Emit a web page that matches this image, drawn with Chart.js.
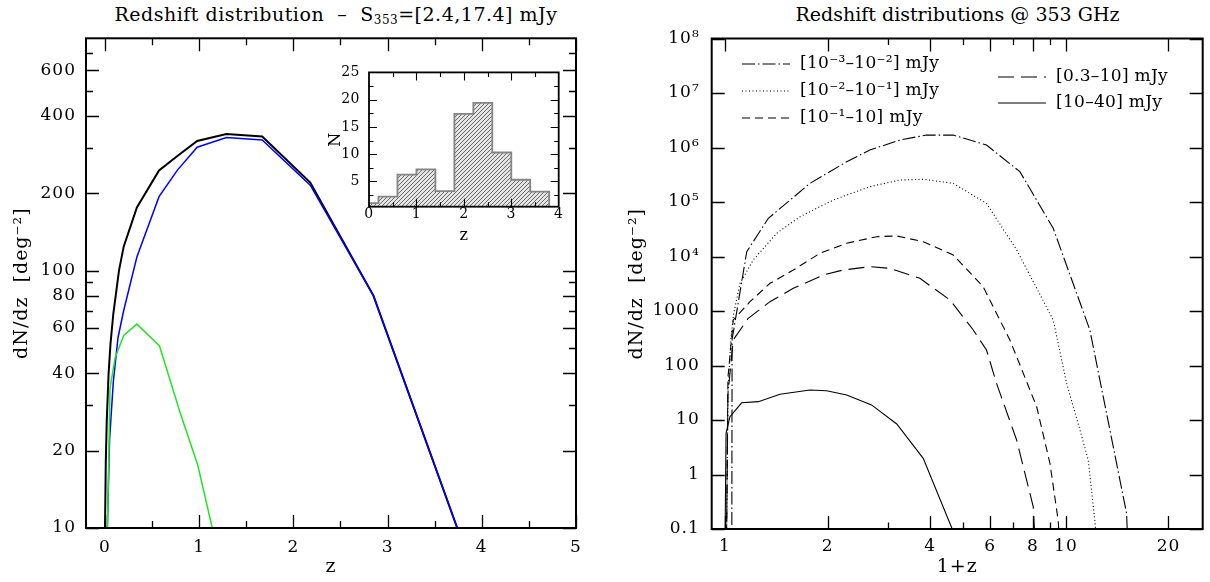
<!DOCTYPE html>
<html>
<head>
<meta charset="utf-8">
<script src="https://cdn.jsdelivr.net/npm/chart.js@4.4.0/dist/chart.umd.min.js"></script>
<style>
  body { margin: 0; background: #fff; }
  #wrap { position: relative; width: 1210px; height: 582px; font-family: 'DejaVu Serif', serif; }
  canvas { position: absolute; }
  .title { position: absolute; top: 3px; font-size: 19px; line-height: 22px; text-align: center; white-space: nowrap; color: #000; }
  .title sub { font-size: 12px; vertical-align: -3px; }
</style>
</head>
<body>
<div id="wrap">
  <div class="title" style="left:91px;width:490px;letter-spacing:0.5px">Redshift distribution &nbsp;–&nbsp; S<sub>353</sub>=[2.4,17.4] mJy</div>
  <div class="title" style="left:712px;width:491px">Redshift distributions @ 353 GHz</div>
  <canvas id="left" width="605" height="582" style="left:0;top:0"></canvas>
  <canvas id="right" width="605" height="582" style="left:605px;top:0"></canvas>
  <canvas id="inset" width="245" height="195" style="left:325px;top:55px"></canvas>
</div>
<script>
// ---- left panel: dN/dz vs z for S353 = [2.4,17.4] mJy
const zTotal = [0.0, 0.01, 0.02, 0.04, 0.06, 0.09, 0.15, 0.2, 0.34, 0.575, 0.77, 0.98, 1.29, 1.67, 2.18, 2.85, 3.74];
const nTotal = [9, 18, 26, 40, 52, 68, 100, 124, 176, 245, 279, 319, 340, 332, 220, 80, 10];
const zBlue = [0.025, 0.05, 0.09, 0.14, 0.2, 0.34, 0.575, 0.77, 0.98, 1.29, 1.67, 2.18, 2.85, 3.74];
const nBlue = [9.5, 22, 37, 55, 70, 113, 194, 246, 302, 329, 322, 215, 80, 10];
const zGreen = [0.027, 0.055, 0.11, 0.2, 0.34, 0.58, 0.8, 0.985, 1.14];
const nGreen = [9.5, 35, 46, 56, 62, 51, 28, 17.6, 10];

const leftXTicks = [0, 1, 2, 3, 4, 5];
const leftYTicks = [10, 20, 40, 60, 80, 100, 200, 400, 600];

// ---- inset histogram
const binEdges = [0, 0.2, 0.6, 1.0, 1.4, 1.8, 2.2, 2.6, 3.0, 3.4, 3.8];
const binCounts = [1, 2.2, 6.25, 7.2, 3.2, 17.4, 19.4, 10.3, 5.3, 3.1];
const insetXTicks = [0, 1, 2, 3, 4];
const insetYTicks = [5, 10, 15, 20, 25];

// ---- right panel: dN/dz vs 1+z, flux bins
const rLabels = ['[10⁻³–10⁻²] mJy', '[10⁻²–10⁻¹] mJy', '[10⁻¹–10] mJy', '[0.3–10] mJy', '[10–40] mJy'];
const xA = [1.047, 1.049, 1.158, 1.34, 1.775, 2.275, 2.66, 3.26, 3.9, 4.67, 5.85, 7.33, 9.18, 11.76, 15.07, 15.15];
const yA = [0.05, 300, 12250, 50200, 220000, 548000, 899000, 1.37e6, 1.69e6, 1.69e6, 1.11e6, 3.6e5, 3.29e4, 448, 0.194, 0.08];
const xB = [1.01, 1.02, 1.04, 1.06, 1.107, 1.21, 1.418, 1.66, 2.078, 2.66, 3.26, 3.815, 4.67, 5.85, 7.17, 8.56, 9.18, 10.05, 11.0, 11.63, 12.17, 12.25];
const yB = [0.05, 30, 300, 900, 3220, 8630, 26700, 53700, 109000, 191000, 253000, 261000, 220000, 94700, 13200, 1590, 684, 47.1, 6.55, 1.85, 0.136, 0.08];
const xC = [1.01, 1.02, 1.057, 1.184, 1.355, 1.586, 1.9, 2.275, 2.786, 3.19, 3.815, 4.67, 5.72, 6.85, 7.17, 8.21, 8.98, 9.49, 9.55];
const yC = [0.05, 60, 684, 1483, 3220, 5650, 11460, 17500, 23100, 23800, 18700, 10700, 2790, 294, 145, 17.5, 1.6, 0.146, 0.08];
const xD = [1.01, 1.02, 1.057, 1.17, 1.355, 1.586, 1.942, 2.22, 2.66, 3.05, 3.73, 4.57, 5.35, 5.85, 6.26, 7.17, 8.02, 8.1];
const yD = [0.05, 30, 294, 735, 1483, 2610, 4570, 5650, 6500, 6070, 3980, 1590, 448, 192, 47, 4.3, 0.257, 0.08];
const xE = [1.0, 1.007, 1.034, 1.119, 1.252, 1.45, 1.775, 1.987, 2.275, 2.69, 3.19, 3.815, 4.64];
const yE = [0.05, 5.7, 11.5, 20.7, 21.7, 29.6, 35.5, 34.5, 28.7, 18.9, 8.45, 1.98, 0.1];

const rightXTicks = [1, 2, 4, 6, 8, 10, 20];
const rightYTicks = [0.1, 1, 10, 100, 1000, 1e4, 1e5, 1e6, 1e7, 1e8];
const rightYLabels = ['0.1', '1', '10', '100', '1000', '10⁴', '10⁵', '10⁶', '10⁷', '10⁸'];

Chart.defaults.font.family = "'DejaVu Serif', serif";
Chart.defaults.color = '#000';

const FONT = "'DejaVu Serif', serif";
const pts = (xs, ys) => xs.map((x, i) => ({x: x, y: ys[i]}));

// pgplot text is wide, widen the canvas text a bit
const spacing = {
    id: 'spacing',
    beforeDraw(chart, args, o) { chart.ctx.letterSpacing = o.px + 'px'; }
};

// box around the plot with pgplot-style inward ticks on all four sides
const frameTicks = {
    id: 'frameTicks',
    afterDatasetsDraw(chart, args, o) {
        const {ctx, chartArea: a, scales: {x, y}} = chart;
        ctx.save();
        ctx.strokeStyle = '#000';
        ctx.lineWidth = o.tickWidth;
        ctx.beginPath();
        const xt = (vals, len) => vals.forEach(v => {
            const p = Math.round(x.getPixelForValue(v)) + 0.5;
            ctx.moveTo(p, a.bottom); ctx.lineTo(p, a.bottom - len);
            ctx.moveTo(p, a.top); ctx.lineTo(p, a.top + len);
        });
        const yt = (vals, len) => vals.forEach(v => {
            const p = Math.round(y.getPixelForValue(v)) + 0.5;
            ctx.moveTo(a.left, p); ctx.lineTo(a.left + len, p);
            ctx.moveTo(a.right, p); ctx.lineTo(a.right - len, p);
        });
        xt(o.xMajor, o.major); xt(o.xMinor, o.minor);
        yt(o.yMajor, o.major); yt(o.yMinor, o.minor);
        ctx.stroke();
        ctx.lineWidth = o.frameWidth;
        ctx.strokeRect(a.left, a.top, a.right - a.left, a.bottom - a.top);
        ctx.restore();
    }
};

// legend drawn inside the plot area, two columns
const inLegend = {
    id: 'inLegend',
    afterDatasetsDraw(chart, args, o) {
        if (!o.items) return;
        const ctx = chart.ctx;
        ctx.save();
        ctx.font = o.font;
        ctx.letterSpacing = '0.3px';
        ctx.textBaseline = 'middle';
        ctx.fillStyle = '#000';
        o.items.forEach((it, i) => {
            const ds = chart.data.datasets[i];
            ctx.strokeStyle = ds.borderColor;
            ctx.lineWidth = ds.borderWidth;
            ctx.setLineDash(ds.borderDash || []);
            ctx.beginPath();
            ctx.moveTo(it.x, it.y); ctx.lineTo(it.x + o.len, it.y);
            ctx.stroke();
            ctx.setLineDash([]);
            ctx.fillText(ds.label, it.x + o.len + 10, it.y);
        });
        ctx.restore();
    }
};

function axisX(type, min, max, ticks, labels, height, title, pad, fontSize) {
    return {
        type: type, min: min, max: max, bounds: 'data',
        grid: {display: false, drawTicks: false}, border: {display: false},
        afterBuildTicks: s => { s.ticks = ticks.map(v => ({value: v})); },
        afterFit: s => { s.height = height; },
        ticks: {
            autoSkip: false, maxRotation: 0, padding: pad.ticks,
            font: {family: FONT, size: fontSize},
            callback: (v, i) => labels ? labels[i] : String(ticks[i])
        },
        title: {display: true, text: title, font: {family: FONT, size: fontSize + 2}, padding: {top: 0, bottom: pad.title}}
    };
}

function axisY(type, min, max, ticks, labels, width, title, pad, fontSize) {
    return {
        type: type, min: min, max: max, bounds: 'data',
        grid: {display: false, drawTicks: false}, border: {display: false},
        afterBuildTicks: s => { s.ticks = ticks.map(v => ({value: v})); },
        afterFit: s => { s.width = width; },
        ticks: {
            autoSkip: false, padding: pad.ticks,
            font: {family: FONT, size: fontSize},
            callback: (v, i) => labels ? labels[i] : String(ticks[i])
        },
        title: {display: true, text: title, font: {family: FONT, size: fontSize + 2}, padding: {top: pad.title, bottom: 0}}
    };
}

const baseOpts = {responsive: false, animation: false, events: []};

// ---------- left panel
new Chart(document.getElementById('left'), {
    type: 'line',
    data: {
        datasets: [
            {data: pts(zGreen, nGreen), borderColor: '#22e622', borderWidth: 1.5},
            {data: pts(zBlue, nBlue), borderColor: '#0000ff', borderWidth: 1.5},
            {data: pts(zTotal, nTotal), borderColor: '#000000', borderWidth: 2}
        ]
    },
    options: Object.assign({}, baseOpts, {
        layout: {padding: {left: 0, right: 29, top: 38.3, bottom: 0}},
        elements: {point: {radius: 0}, line: {tension: 0}},
        scales: {
            x: axisX('linear', -0.2, 5, leftXTicks, null, 54, 'z', {ticks: 9, title: 4}, 17),
            y: axisY('logarithmic', 10, 800, leftYTicks, null, 86, 'dN/dz  [deg⁻²]', {ticks: 10, title: 11}, 17)
        },
        plugins: {
            legend: {display: false}, tooltip: {enabled: false},
            spacing: {px: 1},
            frameTicks: {
                xMajor: [0, 1, 2, 3, 4, 5], xMinor: [0.5, 1.5, 2.5, 3.5, 4.5],
                yMajor: [10, 20, 40, 60, 80, 100, 200, 400, 600], yMinor: [30, 50, 70, 90, 300, 500, 700],
                major: 13, minor: 7, tickWidth: 1.3, frameWidth: 2
            }
        }
    }),
    plugins: [spacing, frameTicks]
});

// ---------- inset histogram
function hatch() {
    const c = document.createElement('canvas');
    c.width = 4; c.height = 4;
    const g = c.getContext('2d');
    g.fillStyle = '#e4e4e4';
    g.fillRect(0, 0, 4, 4);
    g.strokeStyle = '#6a6a6a';
    g.lineWidth = 1;
    g.beginPath();
    g.moveTo(-1, 5); g.lineTo(5, -1);
    g.moveTo(-1, 1); g.lineTo(1, -1);
    g.moveTo(3, 5); g.lineTo(5, 3);
    g.stroke();
    return g.createPattern(c, 'repeat');
}

const histPts = [{x: binEdges[0], y: 0}]
    .concat(binCounts.map((n, i) => ({x: binEdges[i], y: n})))
    .concat([{x: binEdges[binEdges.length - 1], y: 0}]);

new Chart(document.getElementById('inset'), {
    type: 'line',
    data: {
        datasets: [{
            data: histPts, stepped: 'before', fill: 'origin',
            borderColor: '#858585', borderWidth: 1.8, backgroundColor: hatch()
        }]
    },
    options: Object.assign({}, baseOpts, {
        layout: {padding: {left: 0, right: 11.3, top: 10, bottom: 0}},
        elements: {point: {radius: 0}},
        scales: {
            x: axisX('linear', 0, 4, insetXTicks, null, 43.3, 'z', {ticks: -1, title: 5}, 14),
            y: axisY('linear', 0.35, 25, insetYTicks, null, 44, 'N', {ticks: 9, title: 1}, 14)
        },
        plugins: {
            legend: {display: false}, tooltip: {enabled: false},
            spacing: {px: 0.5},
            frameTicks: {
                xMajor: [1, 2, 3], xMinor: [0.5, 1.5, 2.5, 3.5],
                yMajor: [5, 10, 15, 20], yMinor: [2.5, 7.5, 12.5, 17.5, 22.5],
                major: 8, minor: 4.5, tickWidth: 1.1, frameWidth: 1.8
            }
        }
    }),
    plugins: [spacing, frameTicks]
});

// ---------- right panel
const styles = [
    {borderDash: [13, 3, 1.5, 3]},
    {borderDash: [1, 2.5]},
    {borderDash: [8, 5]},
    {borderDash: [16, 7]},
    {borderDash: []}
];
const rx = [xA, xB, xC, xD, xE];
const ry = [yA, yB, yC, yD, yE];

new Chart(document.getElementById('right'), {
    type: 'line',
    data: {
        datasets: rLabels.map((lab, i) => Object.assign({
            label: lab, data: pts(rx[i], ry[i]), borderColor: '#000', borderWidth: 1.1
        }, styles[i]))
    },
    options: Object.assign({}, baseOpts, {
        layout: {padding: {left: 0, right: 7.3, top: 38.5, bottom: 0}},
        elements: {point: {radius: 0}, line: {tension: 0}},
        scales: {
            x: axisX('logarithmic', 0.914, 25.2, rightXTicks, null, 53, '1+z', {ticks: 7, title: 4}, 17),
            y: axisY('logarithmic', 0.1, 1e8, rightYTicks, rightYLabels, 106.7, 'dN/dz  [deg⁻²]', {ticks: 12, title: 21}, 17)
        },
        plugins: {
            legend: {display: false}, tooltip: {enabled: false},
            spacing: {px: 1},
            frameTicks: {
                xMajor: [1, 2, 4, 6, 8, 10, 20], xMinor: [3, 5, 7, 9],
                yMajor: rightYTicks, yMinor: [],
                major: 13, minor: 6.5, tickWidth: 1.3, frameWidth: 2
            },
            inLegend: {
                font: "17px 'DejaVu Serif', serif", len: 48,
                items: [{x: 137, y: 64}, {x: 137, y: 91}, {x: 137, y: 118}, {x: 393, y: 77}, {x: 393, y: 103}]
            }
        }
    }),
    plugins: [spacing, frameTicks, inLegend]
});
</script>
</body>
</html>
